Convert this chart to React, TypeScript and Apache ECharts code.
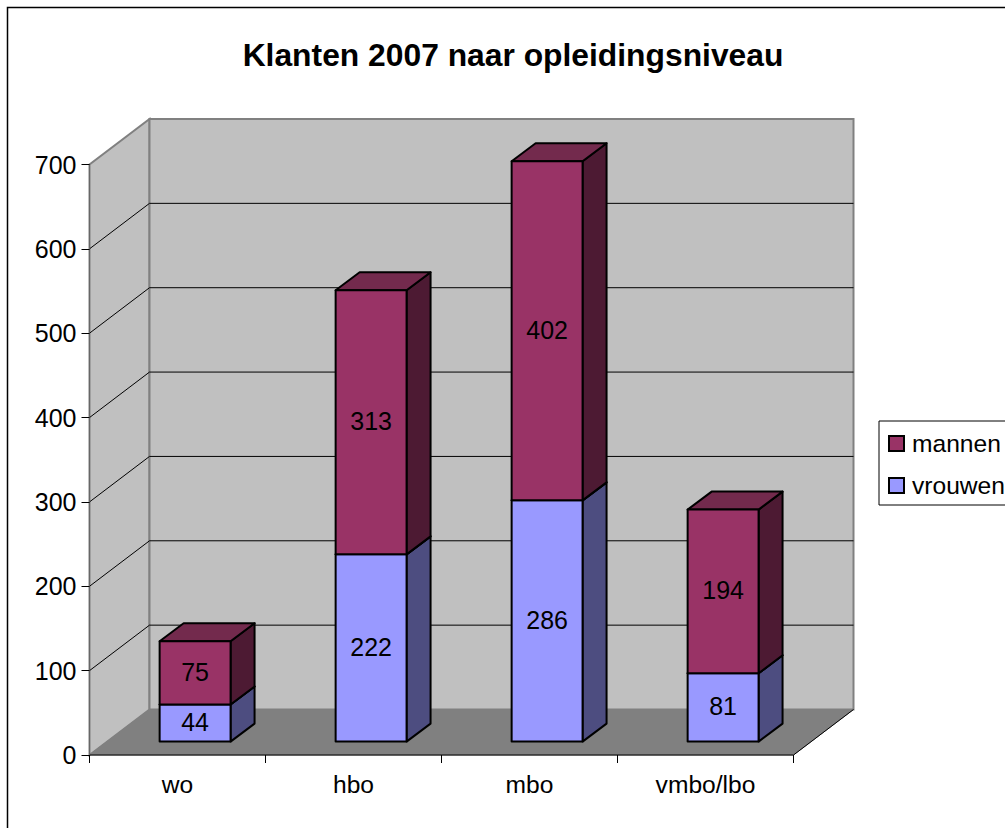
import React, { useEffect, useRef } from "react";
import * as echarts from "echarts";

const titleText = "Klanten 2007 naar opleidingsniveau";
const categories = ["wo", "hbo", "mbo", "vmbo/lbo"];
const vrouwen = [44, 222, 286, 81];
const mannen = [75, 313, 402, 194];
const yTicks = [100, 200, 300, 400, 500, 600];
const FONT = "'Liberation Sans', Arial, sans-serif";

const wallDx = 60;
const wallDy = -45.5;
const barShiftX = 17.6;
const barShiftY = -13.4;
const barDepthX = 24;
const barDepthY = -18;

function wallsItem(params: any) {
  const c = params.coordSys;
  const l = c.x, r = c.x + c.width, t = c.y, b = c.y + c.height;
  const stroke = { stroke: "#808080", lineWidth: 2 };
  return {
    type: "group",
    children: [
      { type: "polygon", shape: { points: [[l, b], [l + wallDx, b + wallDy], [l + wallDx, t + wallDy], [l, t]] }, style: { fill: "#C0C0C0", ...stroke } },
      { type: "polygon", shape: { points: [[l + wallDx, b + wallDy], [r + wallDx, b + wallDy], [r + wallDx, t + wallDy], [l + wallDx, t + wallDy]] }, style: { fill: "#C0C0C0", ...stroke } },
      { type: "polygon", shape: { points: [[l, b], [r, b], [r + wallDx, b + wallDy], [l + wallDx, b + wallDy]] }, style: { fill: "#808080", stroke: "#808080", lineWidth: 1 } },
      { type: "line", shape: { x1: l, y1: b, x2: r, y2: b }, style: { stroke: "#000", lineWidth: 1 } },
      { type: "line", shape: { x1: r, y1: b, x2: r + wallDx, y2: b + wallDy }, style: { stroke: "#000", lineWidth: 1 } },
    ],
  };
}

function gridItem(params: any, api: any) {
  const c = params.coordSys;
  const y = api.coord([0, api.value(1)])[1];
  return {
    type: "polyline",
    shape: { points: [[c.x, y], [c.x + wallDx, y + wallDy], [c.x + c.width + wallDx, y + wallDy]] },
    style: { fill: "none", stroke: "#000", lineWidth: 1 },
  };
}

function barRenderer(front: string, side: string, top: string) {
  return (_params: any, api: any) => {
    const cat = api.value(0);
    const base = api.value(1);
    const val = api.value(2);
    const pBase = api.coord([cat, base]);
    const pTop = api.coord([cat, base + val]);
    const w = api.size([1, 0])[0] * 0.403;
    const x0 = pBase[0] + barShiftX - w / 2;
    const x1 = x0 + w;
    const yb = pBase[1] + barShiftY;
    const yt = pTop[1] + barShiftY;
    const line = { stroke: "#000", lineWidth: 2, lineJoin: "round" };
    return {
      type: "group",
      children: [
        { type: "polygon", shape: { points: [[x1, yb], [x1 + barDepthX, yb + barDepthY], [x1 + barDepthX, yt + barDepthY], [x1, yt]] }, style: { fill: side, ...line } },
        { type: "polygon", shape: { points: [[x0, yt], [x1, yt], [x1 + barDepthX, yt + barDepthY], [x0 + barDepthX, yt + barDepthY]] }, style: { fill: top, ...line } },
        { type: "rect", shape: { x: x0, y: yt, width: w, height: yb - yt }, style: { fill: front, ...line } },
        { type: "text", style: { text: String(val), x: (x0 + x1) / 2, y: (yb + yt) / 2 - 1, align: "center", verticalAlign: "middle", fill: "#000", font: `25px ${FONT}` } },
      ],
    };
  };
}

export default function App() {
  const ref = useRef<HTMLDivElement>(null);
  useEffect(() => {
    const chart = echarts.init(ref.current!, undefined, { renderer: "svg" });
    chart.setOption({
      animation: false,
      backgroundColor: "#fff",
      title: {
        text: titleText,
        left: 508,
        top: 34,
        textAlign: "center",
        textStyle: { fontFamily: FONT, fontWeight: "bold", fontSize: 31.8, color: "#000" },
      },
      legend: {
        left: 879,
        top: 421,
        orient: "vertical",
        data: [
          { name: "mannen", itemStyle: { color: "#993366", borderColor: "#000", borderWidth: 2 } },
          { name: "vrouwen", itemStyle: { color: "#9999FF", borderColor: "#000", borderWidth: 2 } },
        ],
        icon: "rect",
        itemWidth: 15,
        itemHeight: 15,
        itemGap: 17,
        padding: [10, 20, 7, 9],
        borderColor: "#000",
        borderWidth: 1,
        backgroundColor: "#fff",
        textStyle: { fontFamily: FONT, fontSize: 24.6, color: "#000", padding: [0, 0, 0, 3] },
      },
      graphic: [
        { type: "rect", z: 100, silent: true, shape: { x: 7.5, y: 7.5, width: 1100, height: 900 }, style: { fill: "none", stroke: "#000", lineWidth: 1.5 } },
      ],
      grid: { left: 89.5, top: 164.5, width: 704, height: 590.5, containLabel: false },
      xAxis: {
        type: "category",
        data: categories,
        axisLine: { show: false },
        axisTick: { show: true, length: 8, lineStyle: { color: "#000" } },
        axisLabel: { fontFamily: FONT, fontSize: 24.6, color: "#000", margin: 17 },
        z: 5,
      },
      yAxis: {
        type: "value",
        min: 0,
        max: 700,
        interval: 100,
        splitLine: { show: false },
        axisLine: { show: true, lineStyle: { color: "#666" } },
        axisTick: { show: true, length: 8, lineStyle: { color: "#000" } },
        axisLabel: { fontFamily: FONT, fontSize: 25, color: "#000", margin: 13 },
        z: 5,
      },
      series: [
        { type: "custom", name: "walls", silent: true, z: 1, clip: false, renderItem: wallsItem, data: [[0, 0]], encode: { x: 0, y: 1 } },
        { type: "custom", name: "grid", silent: true, z: 2, clip: false, renderItem: gridItem, data: yTicks.map((v) => [0, v]), encode: { x: 0, y: 1 } },
        {
          type: "custom", name: "vrouwen", z: 3, clip: false,
          itemStyle: { color: "#9999FF" },
          renderItem: barRenderer("#9999FF", "#4D4D80", "#7373BF"),
          data: vrouwen.map((v, i) => [i, 0, v]),
          encode: { x: 0, y: 2 },
        },
        {
          type: "custom", name: "mannen", z: 4, clip: false,
          itemStyle: { color: "#993366" },
          renderItem: barRenderer("#993366", "#4D1A33", "#732A4D"),
          data: mannen.map((v, i) => [i, vrouwen[i], v]),
          encode: { x: 0, y: 2 },
        },
      ],
    });
    return () => chart.dispose();
  }, []);
  return <div ref={ref} style={{ position: "absolute", left: 0, top: 0, width: 1005, height: 828, overflow: "hidden" }} />;
}
